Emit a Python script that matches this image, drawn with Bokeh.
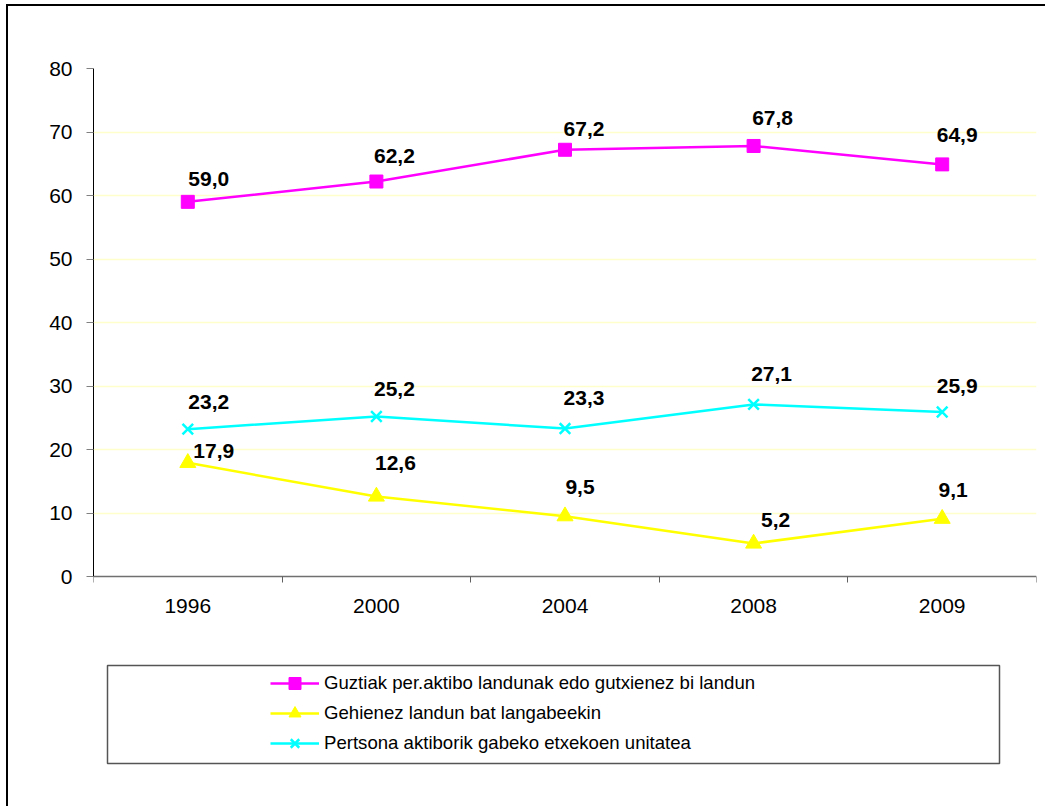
from bokeh.plotting import figure
from bokeh.models import (Range1d, FixedTicker, Legend, LegendItem, ColumnDataSource,
                          BoxAnnotation)
from bokeh.embed import file_html
from bokeh.resources import INLINE
from bokeh.core.properties import value

years = ["1996", "2000", "2004", "2008", "2009"]
guztiak = [59.0, 62.2, 67.2, 67.8, 64.9]
gehienez = [17.9, 12.6, 9.5, 5.2, 9.1]
pertsona = [23.2, 25.2, 23.3, 27.1, 25.9]
names = ["Guztiak per.aktibo landunak edo gutxienez bi landun",
         "Gehienez landun bat langabeekin",
         "Pertsona aktiborik gabeko etxekoen unitatea"]
y_ticks = list(range(0, 81, 10))

# label offsets (styling, pixels)
lab_dx = {0: [21, 18, 19, 19, 15], 1: [26, 19, 15, 22, 11], 2: [21, 18, 19, 18, 15]}
lab_dy = {0: [23, 26, 21, 28, 29], 1: [12, 33, 29, 23, 29], 2: [27, 27, 31, 30, 26]}

FONT = "Liberation Sans"
PAD_X, PAD_Y = 8, 6
W, H = 1045, 806
LEFT, TOP, RIGHT, BOTTOM = 85, 62, 17, 45
AXIS_TOP, AXIS_ZERO = 68, 576
FRAME_BOTTOM = PAD_Y + H - BOTTOM
# the frame runs below the value axis so that the legend area is inside it
Y_LOW = -(FRAME_BOTTOM - AXIS_ZERO) / (AXIS_ZERO - AXIS_TOP) * 80

p = figure(width=W, height=H, output_backend="svg", toolbar_location=None,
           x_range=Range1d(0, len(years)), y_range=Range1d(Y_LOW, 80),
           min_border_left=LEFT, min_border_top=TOP, min_border_right=RIGHT,
           min_border_bottom=BOTTOM)
p.outline_line_color = None
p.background_fill_color = "white"
p.border_fill_color = "white"
p.styles = {
    "padding-left": f"{PAD_X}px",
    "padding-top": f"{PAD_Y}px",
    "background-color": "white",
    "background-image": "linear-gradient(black, black), linear-gradient(black, black)",
    "background-size": "2px 100%, 100% 2px",
    "background-position": "6px 4px, 6px 4px",
    "background-repeat": "no-repeat",
}

xs = [i + 0.5 for i in range(len(years))]

# axes
p.xaxis.fixed_location = 0
p.xaxis.ticker = FixedTicker(ticks=xs, minor_ticks=list(range(len(years) + 1)))
p.xaxis.major_label_overrides = {x: y for x, y in zip(xs, years)}
p.xaxis.major_tick_out = 0
p.xaxis.major_tick_in = 0
p.xaxis.minor_tick_out = 6
p.xaxis.minor_tick_in = 0
p.xaxis.minor_tick_line_color = "#606060"
p.xaxis.axis_line_color = "#707070"
p.xaxis.axis_line_width = 1.5
p.xaxis.major_label_standoff = 16
p.xaxis.major_label_text_font = FONT
p.xaxis.major_label_text_font_size = "21px"
p.xaxis.major_label_text_color = "black"

p.yaxis.bounds = (0, 80)
p.yaxis.ticker = FixedTicker(ticks=y_ticks)
p.yaxis.major_tick_out = 7
p.yaxis.major_tick_in = 0
p.yaxis.minor_tick_line_color = None
p.yaxis.major_tick_line_color = "#808080"
p.yaxis.axis_line_color = "black"
p.yaxis.major_label_standoff = 14
p.yaxis.major_label_text_font = FONT
p.yaxis.major_label_text_font_size = "21px"
p.yaxis.major_label_text_color = "black"

p.xgrid.grid_line_color = None
p.ygrid.ticker = FixedTicker(ticks=y_ticks[1:])
p.ygrid.grid_line_color = "#FFFFCC"
p.ygrid.grid_line_width = 1.5

series = [
    (guztiak, "#FF00FF", "square", 13),
    (gehienez, "#FFFF00", "triangle", 16),
    (pertsona, "#00FFFF", "x", 15),
]

items = []
for k, (vals, color, marker, size) in enumerate(series):
    src = ColumnDataSource(dict(x=xs, y=vals,
                                lab=[f"{v:.1f}".replace(".", ",") for v in vals],
                                dx=lab_dx[k], dy=[-d for d in lab_dy[k]]))
    lr = p.line("x", "y", source=src, line_color=color, line_width=2.5)
    if marker == "x":
        sr = p.scatter("x", "y", source=src, marker=marker, size=size,
                       line_color=color, line_width=2.5)
    else:
        sr = p.scatter("x", "y", source=src, marker=marker, size=size,
                       fill_color=color, line_color=color)
    p.text("x", "y", text="lab", source=src, x_offset="dx", y_offset="dy",
           text_align="center", text_baseline="alphabetic",
           text_font=value(FONT), text_font_style="bold", text_font_size="21px",
           text_color="black")
    items.append(LegendItem(label=names[k], renderers=[lr, sr]))

legend = Legend(items=items, location=(177, 9), orientation="vertical",
                glyph_width=49, glyph_height=30, label_height=30,
                label_standoff=5, spacing=0, padding=3, margin=0,
                label_text_font=FONT, label_text_font_size="18.6px",
                label_text_color="black",
                border_line_color=None, background_fill_alpha=0)
p.add_layout(legend, "center")

# legend frame
p.add_layout(BoxAnnotation(left=91, right=983, top=653, bottom=751,
                           left_units="canvas", right_units="canvas",
                           top_units="canvas", bottom_units="canvas",
                           fill_alpha=0, line_color="#555555", line_alpha=1,
                           line_width=1.5, level="overlay"))

open("out.html", "w").write(file_html(p, INLINE))
